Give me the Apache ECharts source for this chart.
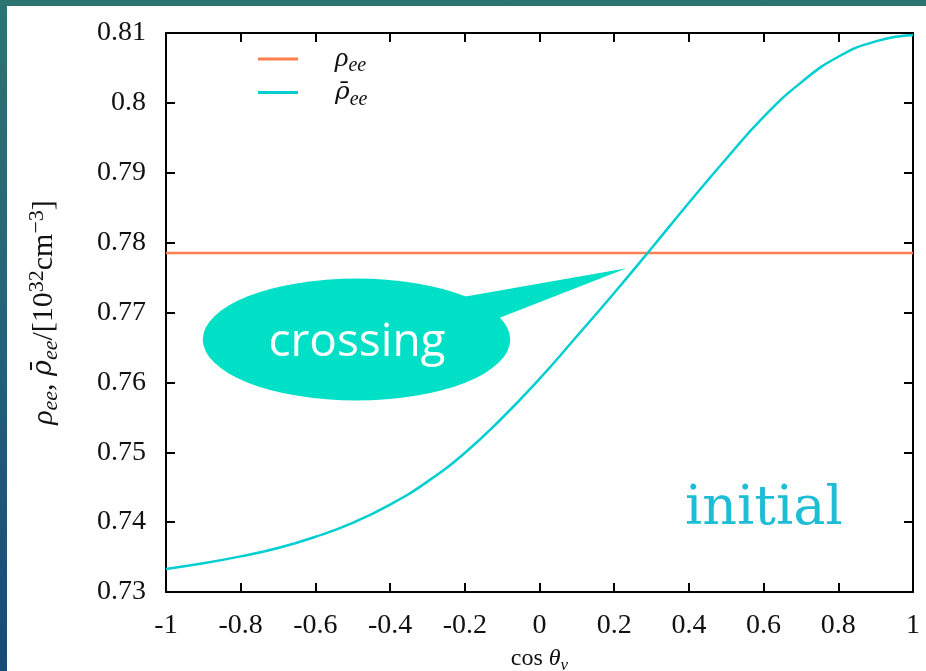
<!DOCTYPE html>
<html>
<head>
<meta charset="utf-8">
<script src="https://cdn.jsdelivr.net/npm/echarts@6/dist/echarts.min.js"></script>
<style>
  html, body { margin: 0; padding: 0; }
  body {
    width: 926px; height: 671px; overflow: hidden; position: relative;
    background: linear-gradient(180deg, #2a7472 0%, #24657a 45%, #174a78 100%);
  }
  #chart {
    position: absolute; left: 7px; top: 6px; width: 919px; height: 665px;
    background: #ffffff;
  }
</style>
</head>
<body>
<div id="chart"></div>
<script>
// angle grid (cos θν) and densities in units of 1e32 cm^-3
const cosTheta = [-1, -0.9, -0.8, -0.7, -0.6, -0.5, -0.4, -0.3, -0.2, -0.1, 0,
                  0.1, 0.2, 0.3, 0.4, 0.5, 0.6, 0.7, 0.8, 0.9, 1];
const rhoBarEE = [0.7333, 0.7341, 0.7351, 0.7363, 0.7379, 0.7399, 0.7425, 0.7458, 0.7499, 0.7549, 0.7605,
                  0.7666, 0.7728, 0.7792, 0.7857, 0.7920, 0.7980, 0.8029, 0.8066, 0.8088, 0.8097];
const rhoX = [-1, 1];
const rhoEE = [0.7785, 0.7785];
const seriesNames = ['rho', 'rhobar'];
const xTicks = { min: -1, max: 1, step: 0.2 };
const yTicks = { min: 0.73, max: 0.81, step: 0.01 };

const serif = '"Liberation Serif", "DejaVu Serif", serif';
const chart = echarts.init(document.getElementById('chart'));

const mathRich = (size) => {
  const small = Math.round(size * 0.72);
  return {
    it: { fontFamily: serif, fontStyle: 'italic', fontSize: size, color: '#111', verticalAlign: 'middle', lineHeight: size + 6 },
    bar: { fontFamily: '"DejaVu Serif", serif', fontStyle: 'italic', fontSize: Math.round(size * 0.9), color: '#111', verticalAlign: 'middle', lineHeight: size + 6 },
    sub: { fontFamily: serif, fontStyle: 'italic', fontSize: small, color: '#111', verticalAlign: 'bottom', lineHeight: small },
    rm: { fontFamily: serif, fontSize: size, color: '#111', verticalAlign: 'middle', lineHeight: size + 6 },
    sup: { fontFamily: serif, fontSize: small, color: '#111', verticalAlign: 'top', lineHeight: small }
  };
};

const pairXY = (xs, ys) => xs.map((x, i) => [x, ys[i]]);

const frameAxis = {
  axisLine: { show: true, onZero: false, lineStyle: { color: '#000', width: 2 } },
  axisTick: { show: true, inside: true, length: 9, lineStyle: { color: '#000', width: 2 } },
  splitLine: { show: false }
};

chart.setOption({
  animation: false,
  grid: { left: 159, top: 27, right: 13, bottom: 79, containLabel: false, outerBoundsMode: 'none' },
  legend: {
    orient: 'vertical',
    left: 246,
    top: 34,
    itemGap: 4,
    itemWidth: 40,
    itemHeight: 3,
    icon: 'rect',
    data: seriesNames,
    formatter: (name) => name === 'rho' ? '{it|ρ}{sub|ee}' : '{bar|ρ̄}{sub|ee}',
    textStyle: { fontFamily: serif, fontSize: 28, padding: [0, 0, 0, 32], rich: mathRich(28) }
  },
  xAxis: [
    Object.assign({
      type: 'value', position: 'bottom', min: xTicks.min, max: xTicks.max, interval: xTicks.step,
      axisLabel: { fontFamily: serif, fontSize: 28, color: '#111', margin: 20 },
      name: '{rm|cos }{it|θ}{sub|ν}',
      nameLocation: 'middle', nameGap: 52,
      nameTextStyle: { fontFamily: serif, fontSize: 24, rich: mathRich(24) }
    }, frameAxis),
    Object.assign({
      type: 'value', position: 'top', min: xTicks.min, max: xTicks.max, interval: xTicks.step,
      axisLabel: { show: false }
    }, frameAxis)
  ],
  yAxis: [
    Object.assign({
      type: 'value', position: 'left', min: yTicks.min, max: yTicks.max, interval: yTicks.step,
      axisLabel: { fontFamily: serif, fontSize: 28, color: '#111', margin: 20 },
      name: '{it|ρ}{sub|ee}{rm|, }{bar|ρ̄}{sub|ee}{rm|/[10}{sup|32}{rm|cm}{sup|−3}{rm|]}',
      nameLocation: 'middle', nameRotate: 90, nameGap: 104,
      nameTextStyle: { fontFamily: serif, fontSize: 30, rich: mathRich(30) }
    }, frameAxis),
    Object.assign({
      type: 'value', position: 'right', min: yTicks.min, max: yTicks.max, interval: yTicks.step,
      axisLabel: { show: false }
    }, frameAxis)
  ],
  series: [
    {
      name: seriesNames[0], type: 'line', data: pairXY(rhoX, rhoEE),
      symbol: 'none', lineStyle: { color: '#ff7f50', width: 2.5 }, itemStyle: { color: '#ff7f50' }, z: 3
    },
    {
      name: seriesNames[1], type: 'line', data: pairXY(cosTheta, rhoBarEE),
      smooth: true, symbol: 'none', lineStyle: { color: '#00ced1', width: 2.5 }, itemStyle: { color: '#00ced1' }, z: 4
    }
  ],
  graphic: [
    {
      type: 'polygon', z: 10,
      shape: { points: [[450, 292], [619.5, 262.3], [494.7, 311], [440, 335]] },
      style: { fill: '#00e0c6' }
    },
    {
      type: 'circle', z: 10, x: 349.5, y: 333.5, scaleX: 2.52, scaleY: 1,
      shape: { cx: 0, cy: 0, r: 61 },
      style: { fill: '#00e0c6' }
    },
    {
      type: 'text', z: 11, x: 350, y: 337,
      style: { text: 'crossing', fill: '#ffffff', font: '46px "Open Sans", sans-serif', textAlign: 'center', textVerticalAlign: 'middle' }
    },
    {
      type: 'text', z: 11, x: 678, y: 504,
      style: { text: 'initial', fill: '#1ebdd6', font: '54px "DejaVu Serif", serif', textAlign: 'left', textVerticalAlign: 'middle' }
    }
  ]
});
</script>
</body>
</html>
